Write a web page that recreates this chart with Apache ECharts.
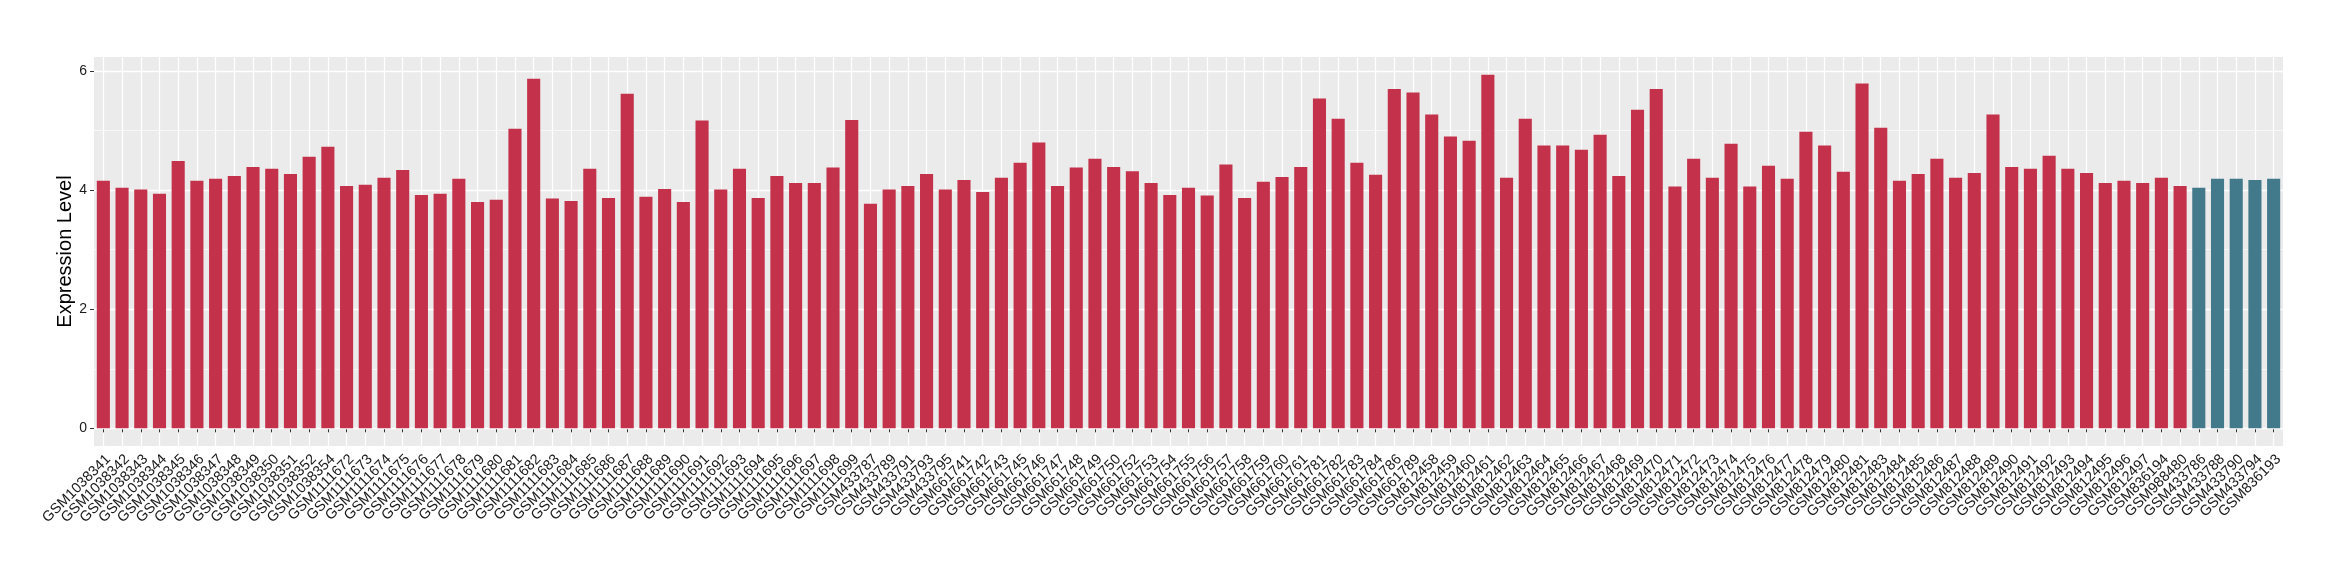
<!DOCTYPE html>
<html>
<head>
<meta charset="utf-8">
<script src="https://cdn.jsdelivr.net/npm/echarts@6/dist/echarts.min.js"></script>
<style>
html,body{margin:0;padding:0;background:#fff;}
#chart{width:2340px;height:580px;}
</style>
</head>
<body>
<div id="chart"></div>
<script>
const categories = [
  "GSM1038341","GSM1038342","GSM1038343","GSM1038344","GSM1038345","GSM1038346","GSM1038347","GSM1038348","GSM1038349","GSM1038350","GSM1038351","GSM1038352","GSM1038354",
  "GSM1111672","GSM1111673","GSM1111674","GSM1111675","GSM1111676","GSM1111677","GSM1111678","GSM1111679","GSM1111680","GSM1111681","GSM1111682","GSM1111683","GSM1111684","GSM1111685","GSM1111686","GSM1111687","GSM1111688","GSM1111689","GSM1111690","GSM1111691","GSM1111692","GSM1111693","GSM1111694","GSM1111695","GSM1111696","GSM1111697","GSM1111698","GSM1111699",
  "GSM433787","GSM433789","GSM433791","GSM433793","GSM433795",
  "GSM661741","GSM661742","GSM661743","GSM661745","GSM661746","GSM661747","GSM661748","GSM661749","GSM661750","GSM661752","GSM661753","GSM661754","GSM661755","GSM661756","GSM661757","GSM661758","GSM661759","GSM661760","GSM661761","GSM661781","GSM661782","GSM661783","GSM661784","GSM661786","GSM661789",
  "GSM812458","GSM812459","GSM812460","GSM812461","GSM812462","GSM812463","GSM812464","GSM812465","GSM812466","GSM812467","GSM812468","GSM812469","GSM812470","GSM812471","GSM812472","GSM812473","GSM812474","GSM812475","GSM812476","GSM812477","GSM812478","GSM812479","GSM812480","GSM812481","GSM812483","GSM812484","GSM812485","GSM812486","GSM812487","GSM812488","GSM812489","GSM812490","GSM812491","GSM812492","GSM812493","GSM812494","GSM812495","GSM812496","GSM812497",
  "GSM836194","GSM988480",
  "GSM433786","GSM433788","GSM433790","GSM433794","GSM836193"
];

// first group (red), in category order
const groupAValues = [
  4.16,4.04,4.01,3.94,4.49,4.16,4.19,4.24,4.39,4.36,4.27,4.56,4.73,
  4.07,4.09,4.21,4.34,3.92,3.94,4.19,3.80,3.84,5.03,5.87,3.86,3.82,4.36,3.87,5.62,3.89,4.02,3.80,5.17,4.01,4.36,3.87,4.24,4.12,4.12,4.38,5.18,
  3.77,4.01,4.07,4.27,4.01,
  4.17,3.97,4.21,4.46,4.80,4.07,4.38,4.53,4.39,4.32,4.12,3.92,4.04,3.91,4.43,3.87,4.14,4.22,4.39,5.54,5.20,4.46,4.26,5.70,5.64,
  5.27,4.90,4.83,5.94,4.21,5.20,4.75,4.75,4.68,4.93,4.24,5.35,5.70,4.06,4.53,4.21,4.78,4.06,4.41,4.19,4.98,4.75,4.31,5.79,5.05,4.16,4.27,4.53,4.21,4.29,5.27,4.39,4.36,4.58,4.36,4.29,
  4.12,4.16,
  4.12,4.21,4.07
];
// second group (teal), last five categories
const groupBValues = [4.04,4.19,4.19,4.17,4.19];

const yTicks = [0,2,4,6];
const yMinorLines = [1,3,5];

const colorA = '#C3314A';
const colorB = '#427A8B';
const fontFam = '"Liberation Sans", Arial, Helvetica, sans-serif';

const barData = groupAValues.map(v => ({value: v, itemStyle: {color: colorA}}))
  .concat(groupBValues.map(v => ({value: v, itemStyle: {color: colorB}})));

const allVals = groupAValues.concat(groupBValues);
const maxV = Math.max.apply(null, allVals);
const yMin = -0.05 * maxV;
const yMax = maxV * 1.05;

const gridLines = yTicks.map(v => ({yAxis: v, lineStyle: {width: 1.3}}))
  .concat(yMinorLines.map(v => ({yAxis: v, lineStyle: {width: 0.6}})));

const chart = echarts.init(document.getElementById('chart'), null, {renderer: 'canvas'});
chart.setOption({
  animation: false,
  backgroundColor: '#ffffff',
  textStyle: {fontFamily: fontFam},
  grid: {
    left: 94, right: 57, top: 57, bottom: 134,
    show: true, backgroundColor: '#EBEBEB', borderWidth: 0
  },
  xAxis: {
    type: 'category',
    data: categories,
    boundaryGap: true,
    axisLine: {show: false},
    axisTick: {show: true, alignWithLabel: true, interval: 0, length: 4, lineStyle: {color: '#333333', width: 1}},
    axisLabel: {
      interval: 0, rotate: 45, margin: 6,
      formatter: v => '{gap| }\n{t|' + v + '}',
      rich: {
        gap: {fontSize: 1, lineHeight: 14},
        t: {fontSize: 14.5, lineHeight: 16, color: '#1a1a1a', fontFamily: fontFam}
      }
    },
    splitLine: {show: true, interval: 0, alignWithLabel: true, lineStyle: {color: '#ffffff', width: 1.2}}
  },
  yAxis: {
    type: 'value',
    min: yMin, max: yMax,
    name: 'Expression Level',
    nameLocation: 'middle',
    nameGap: 19,
    nameMoveOverlap: false,
    nameTextStyle: {fontSize: 20, color: '#000000', fontFamily: fontFam},
    axisLine: {show: false},
    axisTick: {show: true, length: 4, customValues: yTicks, lineStyle: {color: '#333333', width: 1}},
    axisLabel: {show: true, customValues: yTicks, fontSize: 14, color: '#1a1a1a', margin: 7, fontFamily: fontFam},
    splitLine: {show: false}
  },
  series: [{
    type: 'bar',
    data: barData,
    barWidth: '70%',
    z: 2,
    markLine: {
      z: 1,
      silent: true,
      symbol: 'none',
      label: {show: false},
      lineStyle: {color: '#ffffff', type: 'solid'},
      data: gridLines
    }
  }]
});
</script>
</body>
</html>
